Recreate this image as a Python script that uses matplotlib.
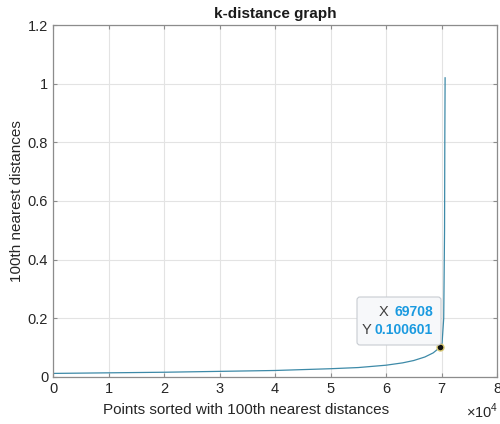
import numpy as np
import matplotlib.pyplot as plt
from matplotlib.patches import FancyBboxPatch
from matplotlib.ticker import FuncFormatter, MultipleLocator

# ---------------------------------------------------------
# DATOS
# ---------------------------------------------------------

puntos = [0, 10000, 20000, 30000, 40000, 50000, 55000, 60000, 63000,
          65000, 67000, 68500, 69708, 70100, 70400, 70550, 70600, 70650]

distancias = [0.012, 0.014, 0.016, 0.019, 0.022, 0.028, 0.032, 0.040, 0.048,
              0.056, 0.068, 0.082, 0.100601, 0.115, 0.2, 0.5, 0.82, 1.02]

punto_marcado = (69708, 0.100601)

# ---------------------------------------------------------
# FIGURA
# ---------------------------------------------------------

plt.rcParams["font.family"] = ["Liberation Sans", "DejaVu Sans"]
plt.rcParams["mathtext.fontset"] = "custom"
plt.rcParams["mathtext.rm"] = "Liberation Sans"

fig = plt.figure(figsize=(5.0, 4.24), dpi=100)
ax = fig.add_axes([0.106, 0.111, 0.888, 0.830])

ax.plot(puntos, distancias, color="#3d8aa8", linewidth=0.9)

ax.set_xlim(0, 80000)
ax.set_ylim(0, 1.2)
ax.xaxis.set_major_locator(MultipleLocator(10000))
ax.yaxis.set_major_locator(MultipleLocator(0.2))
ax.xaxis.set_major_formatter(FuncFormatter(lambda v, p: f"{v / 1e4:g}"))
ax.yaxis.set_major_formatter(FuncFormatter(lambda v, p: f"{v:g}"))

ax.grid(True, color="#e3e3e3", linewidth=0.8)
ax.set_axisbelow(True)

for s in ax.spines.values():
    s.set_color("#8c8c8c")
    s.set_linewidth(0.9)

ax.tick_params(direction="in", length=3, color="#8c8c8c",
               labelsize=10.5, labelcolor="#262626",
               top=True, right=True)

ax.set_title("k-distance graph", fontsize=11, fontweight="bold",
             color="#1a1a1a", pad=5)
ax.set_ylabel("100th nearest distances", fontsize=11, color="#262626",
              labelpad=3)
ax.set_xlabel("Points sorted with 100th nearest distances", fontsize=11,
              color="#262626")
ax.xaxis.set_label_coords(0.435, -0.075)

fig.text(0.996, 0.031, r"$\times\mathrm{10}^{\mathrm{4}}$", fontsize=10.5,
         color="#262626", ha="right", va="center")

# ---------------------------------------------------------
# DATATIP (posiciones en pixeles de figura)
# ---------------------------------------------------------

ax.plot(*punto_marcado, marker="o", markersize=5,
        markerfacecolor="#111111", markeredgecolor="#d8c870", zorder=5)

caja = FancyBboxPatch((357, 424 - 345), 84, 48,
                      boxstyle="round,pad=0,rounding_size=3",
                      transform=None, facecolor="#f7f8fa",
                      edgecolor="#c8ccd2", linewidth=0.8, zorder=6)
fig.patches.append(caja)

estilo_valor = dict(xycoords="figure pixels", fontsize=10,
                    color="#1a9ae0", fontweight="bold",
                    ha="right", va="center", zorder=7)
estilo_eje = dict(xycoords="figure pixels", fontsize=10.5,
                  color="#404040", ha="right", va="center", zorder=7)

fig.add_artist(plt.Annotation(f"{punto_marcado[0]}", (433, 424 - 312),
                              **estilo_valor))
fig.add_artist(plt.Annotation("X", (388, 424 - 312), **estilo_eje))
fig.add_artist(plt.Annotation(f"{punto_marcado[1]}", (433, 424 - 330),
                              **estilo_valor))
fig.add_artist(plt.Annotation("Y", (371, 424 - 330), **estilo_eje))

fig.savefig("out.png", dpi=100, facecolor="white")
